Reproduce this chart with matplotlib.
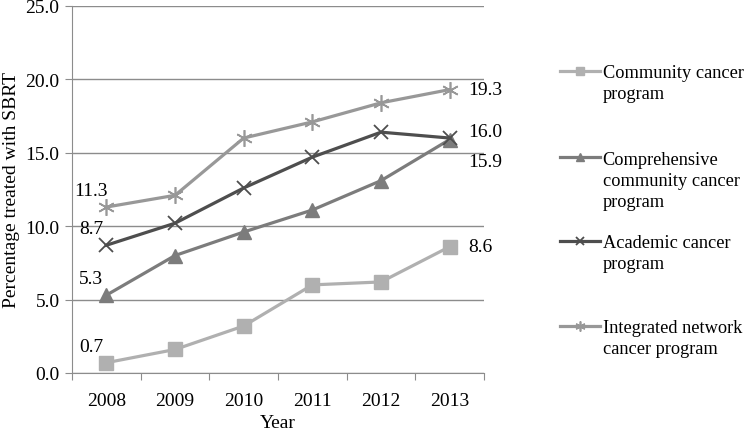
import numpy as np
import matplotlib.pyplot as plt

plt.rcParams['font.family'] = ['Liberation Serif', 'DejaVu Serif']

years = ['2008', '2009', '2010', '2011', '2012', '2013']
community = [0.7, 1.6, 3.2, 6.0, 6.2, 8.6]
comprehensive = [5.3, 8.0, 9.6, 11.1, 13.1, 15.9]
academic = [8.7, 10.2, 12.6, 14.7, 16.4, 16.0]
integrated = [11.3, 12.1, 16.0, 17.1, 18.4, 19.3]

labels = ['Community cancer\nprogram',
          'Comprehensive\ncommunity cancer\nprogram',
          'Academic cancer\nprogram',
          'Integrated network\ncancer program']

fig = plt.figure(figsize=(7.48, 4.31), dpi=100)
ax = fig.add_axes([0.0963, 0.1323, 0.5508, 0.8517])

x = np.arange(len(years))
gray = '#8c8c8c'
fs = 14

lines = []
lines += ax.plot(x, community, color='#b0b0b0', lw=2.3, marker='s', ms=10, label=labels[0], zorder=3)
lines += ax.plot(x, comprehensive, color='#7c7c7c', lw=2.3, marker='^', ms=10, label=labels[1], zorder=3)
lines += ax.plot(x, academic, color='#4e4e4e', lw=2.3, marker='x', ms=10, mew=1.3, label=labels[2], zorder=3)
lines += ax.plot(x, integrated, color='#989898', lw=2.3, marker=(6, 2, 0), ms=12, mew=1.2, label=labels[3], zorder=3)

# data labels at first and last year
for vals in [community, comprehensive, academic, integrated]:
    ax.annotate('%.1f' % vals[0], (0, vals[0]), xytext=(-11, 12), textcoords='offset points',
                fontsize=fs, ha='center', va='center')
ax.annotate('%.1f' % integrated[-1], (5, integrated[-1]), xytext=(13, 0), textcoords='offset points',
            fontsize=fs, va='center')
ax.annotate('%.1f' % academic[-1], (5, academic[-1]), xytext=(13, 5), textcoords='offset points',
            fontsize=fs, va='center')
ax.annotate('%.1f' % comprehensive[-1], (5, comprehensive[-1]), xytext=(13, -16), textcoords='offset points',
            fontsize=fs, va='center')
ax.annotate('%.1f' % community[-1], (5, community[-1]), xytext=(13, 0), textcoords='offset points',
            fontsize=fs, va='center')

ax.set_xlim(-0.5, 5.5)
ax.set_ylim(0, 25)
yt = np.arange(0, 25.1, 5)
ax.set_yticks(yt)
ax.set_yticklabels(['%.1f' % v for v in yt], fontsize=fs)
ax.set_xticks(np.arange(-0.5, 5.6, 1))
ax.set_xticklabels([])
ax.set_xticks(x, minor=True)
ax.set_xticklabels(years, minor=True, fontsize=fs)
ax.tick_params(axis='x', which='minor', length=0, pad=14)
ax.tick_params(axis='x', which='major', length=5, color=gray, direction='out')
ax.tick_params(axis='y', length=5, color=gray, direction='out', pad=4)

ax.grid(axis='y', color=gray, lw=1)
ax.set_axisbelow(True)
for s in ['top', 'right']:
    ax.spines[s].set_visible(False)
for s in ['left', 'bottom']:
    ax.spines[s].set_color(gray)

ax.set_xlabel('Year', fontsize=fs, labelpad=3)
ax.set_ylabel('Percentage treated with SBRT', fontsize=fs, labelpad=4)

# legend: one entry per program, handle level with the first text line
lfs = 13.2
lsp = 1.3
line_h = lfs * 100 / 72 * lsp
leg_y = [72, 158, 242, 327]
for ln, lab, yy in zip(lines, labels, leg_y):
    leg = fig.legend([ln], [lab], loc='center left', bbox_to_anchor=(560 / 748, 1 - yy / 431),
                     frameon=False, fontsize=lfs, handlelength=2.2, handletextpad=0.12,
                     borderpad=0, borderaxespad=0, markerscale=0.6)
    n = lab.count('\n')
    for t in leg.get_texts():
        t.set_linespacing(lsp)
        t.set_position((0, -n / 2 * line_h))

fig.savefig('out.png', dpi=100)
